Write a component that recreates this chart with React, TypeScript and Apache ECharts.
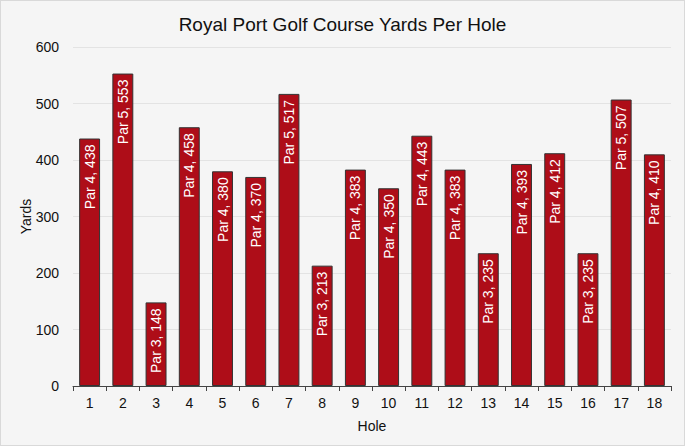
import React, { useEffect, useRef } from "react";
import * as echarts from "echarts";

const holes = ["1","2","3","4","5","6","7","8","9","10","11","12","13","14","15","16","17","18"];
const pars = [4,5,3,4,4,4,5,3,4,4,4,4,3,4,4,3,5,4];
const yards = [438,553,148,458,380,370,517,213,383,350,443,383,235,393,412,235,507,410];

export default function App() {
  const ref = useRef<HTMLDivElement>(null);
  useEffect(() => {
    const chart = echarts.init(ref.current!, null, { renderer: "svg" });
    const font = "Arial, 'Liberation Sans', sans-serif";
    chart.setOption({
      animation: false,
      backgroundColor: "#f5f5f5",
      textStyle: { fontFamily: font },
      title: {
        text: "Royal Port Golf Course Yards Per Hole",
        left: "center",
        top: 9,
        textStyle: { fontSize: 19, fontWeight: "normal", color: "#111", fontFamily: font },
      },
      grid: { left: 72, right: 13, top: 46, bottom: 59, containLabel: false },
      xAxis: {
        type: "category",
        data: holes,
        name: "Hole",
        nameLocation: "middle",
        nameGap: 33,
        nameMoveOverlap: false,
        nameTextStyle: { fontSize: 14, color: "#111" },
        axisLine: { lineStyle: { color: "#444" } },
        axisTick: { show: true, alignWithLabel: false, length: 5, lineStyle: { color: "#444" } },
        axisLabel: { fontSize: 14, color: "#111", margin: 10 },
      },
      yAxis: {
        type: "value",
        min: 0,
        max: 600,
        interval: 100,
        name: "Yards",
        nameLocation: "middle",
        nameGap: 40,
        nameMoveOverlap: false,
        nameTextStyle: { fontSize: 14, color: "#111" },
        axisLine: { show: false },
        axisTick: { show: false },
        axisLabel: { fontSize: 14, color: "#111", margin: 14 },
        splitLine: { lineStyle: { color: "#e3e3e3" } },
      },
      series: [
        {
          type: "bar",
          data: yards,
          barWidth: "63%",
          itemStyle: { color: "#ae0d18", borderColor: "#333", borderWidth: 1 },
          label: {
            show: true,
            position: "insideTop",
            rotate: 90,
            align: "right",
            verticalAlign: "middle",
            distance: 6,
            color: "#fff",
            fontSize: 14,
            formatter: (p: any) => `Par ${pars[p.dataIndex]}, ${p.value}`,
          },
        },
      ],
    });
    return () => chart.dispose();
  }, []);
  return (
    <div
      ref={ref}
      style={{ width: 685, height: 446, position: "absolute", left: 0, top: 0, boxSizing: "border-box", border: "1px solid #d9d9d9" }}
    />
  );
}
